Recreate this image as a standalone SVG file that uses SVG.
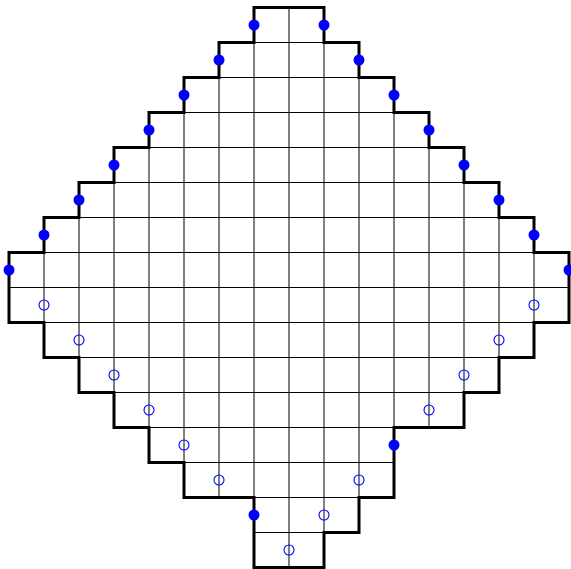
<svg xmlns="http://www.w3.org/2000/svg" width="571" height="569" viewBox="0 0 571 569">
<style>
.grid line{stroke:#000;stroke-width:1}
.bound{fill:none;stroke:#000;stroke-width:3;stroke-linejoin:miter;stroke-linecap:square}
.dot{fill:#0000ff}
.ring{fill:none;stroke:#0000ff;stroke-width:1.1}
</style>
<rect width="571" height="569" fill="#fff"/>
<g id="grid" class="grid">
<line x1="219" y1="42.5" x2="359" y2="42.5"/>
<line x1="184" y1="77.5" x2="394" y2="77.5"/>
<line x1="149" y1="112.5" x2="429" y2="112.5"/>
<line x1="114" y1="147.5" x2="464" y2="147.5"/>
<line x1="79" y1="182.5" x2="499" y2="182.5"/>
<line x1="44" y1="217.5" x2="534" y2="217.5"/>
<line x1="9" y1="252.5" x2="569" y2="252.5"/>
<line x1="9" y1="287.5" x2="569" y2="287.5"/>
<line x1="9" y1="322.5" x2="569" y2="322.5"/>
<line x1="44" y1="357.5" x2="534" y2="357.5"/>
<line x1="79" y1="392.5" x2="499" y2="392.5"/>
<line x1="114" y1="427.5" x2="464" y2="427.5"/>
<line x1="149" y1="462.5" x2="394" y2="462.5"/>
<line x1="184" y1="497.5" x2="394" y2="497.5"/>
<line x1="254" y1="532.5" x2="359" y2="532.5"/>
<line x1="44" y1="217.5" x2="44" y2="357.5"/>
<line x1="79" y1="182.5" x2="79" y2="392.5"/>
<line x1="114" y1="147.5" x2="114" y2="427.5"/>
<line x1="149" y1="112.5" x2="149" y2="462.5"/>
<line x1="184" y1="77.5" x2="184" y2="497.5"/>
<line x1="219" y1="42.5" x2="219" y2="497.5"/>
<line x1="254" y1="7.5" x2="254" y2="567.5"/>
<line x1="289" y1="7.5" x2="289" y2="567.5"/>
<line x1="324" y1="7.5" x2="324" y2="567.5"/>
<line x1="359" y1="42.5" x2="359" y2="532.5"/>
<line x1="394" y1="77.5" x2="394" y2="497.5"/>
<line x1="429" y1="112.5" x2="429" y2="427.5"/>
<line x1="464" y1="147.5" x2="464" y2="427.5"/>
<line x1="499" y1="182.5" x2="499" y2="392.5"/>
<line x1="534" y1="217.5" x2="534" y2="357.5"/>
</g>
<g id="boundary">
<path class="bound" d="M254,7.5 H324 V42.5 H359 V77.5 H394 V112.5 H429 V147.5 H464 V182.5 H499 V217.5 H534 V252.5 H569 V322.5 H534 V357.5 H499 V392.5 H464 V427.5 H394 V497.5 H359 V532.5 H324 V567.5 H254 V497.5 H184 V462.5 H149 V427.5 H114 V392.5 H79 V357.5 H44 V322.5 H9 V252.5 H44 V217.5 H79 V182.5 H114 V147.5 H149 V112.5 H184 V77.5 H219 V42.5 H254 Z"/>
</g>
<g id="filled-dots">
<circle class="dot" cx="254" cy="25" r="5.5"/>
<circle class="dot" cx="219" cy="60" r="5.5"/>
<circle class="dot" cx="184" cy="95" r="5.5"/>
<circle class="dot" cx="149" cy="130" r="5.5"/>
<circle class="dot" cx="114" cy="165" r="5.5"/>
<circle class="dot" cx="79" cy="200" r="5.5"/>
<circle class="dot" cx="44" cy="235" r="5.5"/>
<circle class="dot" cx="9" cy="270" r="5.5"/>
<circle class="dot" cx="324" cy="25" r="5.5"/>
<circle class="dot" cx="359" cy="60" r="5.5"/>
<circle class="dot" cx="394" cy="95" r="5.5"/>
<circle class="dot" cx="429" cy="130" r="5.5"/>
<circle class="dot" cx="464" cy="165" r="5.5"/>
<circle class="dot" cx="499" cy="200" r="5.5"/>
<circle class="dot" cx="534" cy="235" r="5.5"/>
<circle class="dot" cx="569" cy="270" r="5.5"/>
<circle class="dot" cx="394" cy="445" r="5.5"/>
<circle class="dot" cx="254" cy="515" r="5.5"/>
</g>
<g id="open-circles">
<circle class="ring" cx="44" cy="305" r="5"/>
<circle class="ring" cx="79" cy="340" r="5"/>
<circle class="ring" cx="114" cy="375" r="5"/>
<circle class="ring" cx="149" cy="410" r="5"/>
<circle class="ring" cx="184" cy="445" r="5"/>
<circle class="ring" cx="219" cy="480" r="5"/>
<circle class="ring" cx="289" cy="550" r="5"/>
<circle class="ring" cx="324" cy="515" r="5"/>
<circle class="ring" cx="359" cy="480" r="5"/>
<circle class="ring" cx="429" cy="410" r="5"/>
<circle class="ring" cx="464" cy="375" r="5"/>
<circle class="ring" cx="499" cy="340" r="5"/>
<circle class="ring" cx="534" cy="305" r="5"/>
</g>
</svg>
